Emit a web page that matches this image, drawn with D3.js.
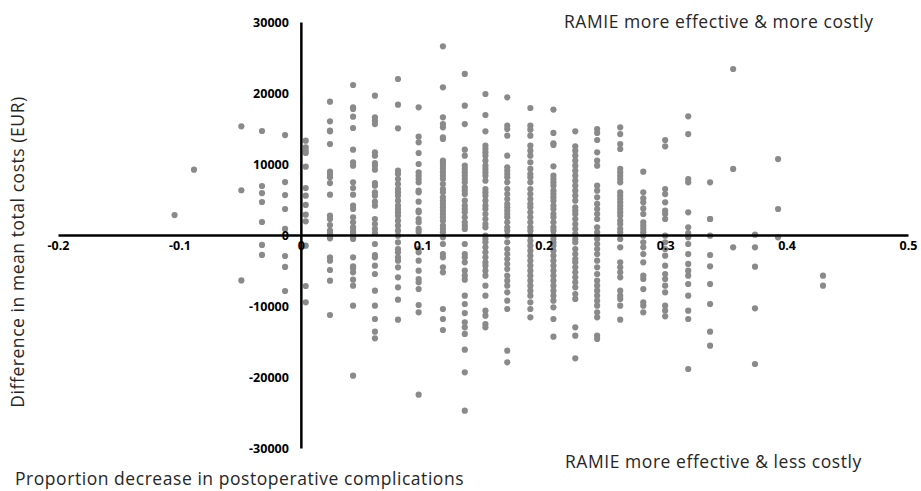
<!DOCTYPE html>
<html>
<head>
<meta charset="utf-8">
<script src="https://cdn.jsdelivr.net/npm/d3@7"></script>
<style>
  body { margin: 0; background: #fff; }
  svg text { font-family: "Open Sans", "Noto Sans", sans-serif; }
</style>
</head>
<body>
<script>
const width = 921;
const height = 491;

// incremental effect (proportion decrease) of each column of bootstrap points
const effects = [-0.104, -0.088, -0.049, -0.032, -0.013, 0.004, 0.024, 0.043, 0.061, 0.080,
  0.097, 0.117, 0.135, 0.152, 0.170, 0.189, 0.208, 0.226, 0.244, 0.263,
  0.282, 0.300, 0.319, 0.337, 0.356, 0.374, 0.393, 0.430];

// incremental costs (EUR) for each column above
const costs = [
  [2800],
  [9200],
  [15300, 6300, -6400],
  [14650, 6900, 5900, 4650, 1830, -1400, -2800],
  [14080, 7460, 5630, 3660, 850, -2960, -4500, -7890],
  [13280, 12350, 11880, 11550, 9620, 6620, 5540, 4230, 2860, 1920, -1500, -7180, -9480],
  [18780, 16010, 14700, 14600, 12820, 8920, 8500, 8120, 7320, 5680, 2720, 2250, 1410, 610, 280,
    -230, -470, -3150, -3610, -4930, -6430, -11270],
  [21130, 17980, 17750, 16670, 15070, 12020, 10230, 9770, 7420, 6620, 5680, 4130, 3660, 2490,
    1780, 1080, 610, 280, -330, -560, -3150, -4410, -4690, -5260, -6290, -7140, -9950, -19810],
  [19620, 16570, 16100, 15630, 11650, 11170, 10140, 9770, 9200, 7320, 6950, 6010, 5540, 4700,
    4130, 2250, 1550, 850, 280, -1270, -2820, -3150, -4320, -5490, -7840, -9950, -11830, -13620, -14550],
  [21970, 18350, 15020, 9060, 8590, 7890, 7180, 6480, 6010, 5540, 4830, 4130, 3660, 3190, 2720,
    2020, 1310, 610, -100, -1030, -1970, -2440, -3150, -3610, -4550, -5960, -7370, -9110, -11920],
  [17980, 13850, 13050, 11550, 10000, 8830, 8360, 7890, 7420, 6240, 6010, 4700, 3430, 3190, 2250,
    1780, 850, 470, -1970, -2440, -3610, -5020, -6200, -6670, -7610, -9860, -10890, -22490],
  [26570, 20800, 16570, 15630, 15160, 13760, 13520, 10470, 10140, 9770, 9300, 8830, 8360, 7890,
    7180, 6480, 6010, 5300, 4830, 4370, 3900, 3430, 2960, 2490, 2020, 1310, 850, 380, -330, -1270,
    -2680, -3150, -4550, -5260, -10420, -11830, -13380],
  [22680, 18220, 15630, 12020, 11170, 9770, 9300, 8830, 8360, 7890, 7420, 6710, 6240, 5770, 4830,
    4130, 3660, 3190, 2490, 1780, 1310, 850, -1270, -2680, -3150, -3850, -5020, -5730, -6290, -8540,
    -9720, -10990, -12300, -13000, -13940, -16150, -19340, -24740],
  [19860, 16900, 14600, 12580, 12110, 11650, 11170, 10470, 9770, 9300, 8830, 8360, 7650, 6480,
    6010, 5540, 4830, 4130, 3660, 2960, 2250, 1550, 1080, -100, -560, -1030, -1730, -2440, -3150,
    -3850, -4320, -5020, -5730, -7140, -8540, -10660, -11360, -12540, -13000],
  [19390, 15400, 14930, 13990, 11170, 9530, 9060, 8590, 8120, 7420, 6480, 5770, 5070, 4370, 3900,
    3430, 2960, 2490, 1780, 1080, 610, -100, -1030, -1970, -2680, -3380, -4080, -4790, -5730, -6430,
    -7140, -8080, -9250, -10420, -16290, -17930],
  [17890, 15400, 14830, 13990, 12580, 11880, 11170, 10230, 9300, 8590, 8120, 7420, 6480, 5770,
    5070, 4370, 3900, 3190, 2490, 1780, 1080, 610, -100, -800, -1500, -2210, -2910, -3610, -4320,
    -5020, -5730, -6430, -7140, -7840, -8540, -9480, -10420, -11600],
  [17660, 14370, 12910, 12680, 9670, 8360, 7890, 7420, 6950, 6240, 5770, 5300, 4830, 4130, 3660,
    2960, 2490, 1780, 1080, 610, -100, -560, -1030, -1500, -2210, -2910, -3610, -4320, -5020, -5730,
    -6430, -7140, -7840, -8540, -9250, -10190, -11830, -14320],
  [14600, 12490, 11880, 11170, 10470, 9770, 9060, 8360, 7650, 6950, 6240, 5540, 4830, 3900, 3430,
    2960, 2250, 1550, 850, 140, -560, -1030, -1970, -2680, -3380, -3850, -4550, -5260, -5960, -6670,
    -7370, -8310, -9010, -13000, -14180, -17370],
  [14930, 14370, 13380, 11650, 10470, 9770, 6950, 6240, 5300, 4370, 3660, 2960, 2250, 1080, 380,
    -560, -1270, -1970, -2680, -3610, -4550, -5490, -6430, -7140, -7840, -8540, -9250, -9950, -10890,
    -11600, -14180, -14650],
  [15160, 14220, 12820, 12110, 9300, 8830, 8360, 7890, 7420, 6010, 5540, 5070, 4600, 4130, 3660,
    3190, 2720, 2020, 1550, 850, 380, -560, -1730, -3850, -4550, -5260, -5960, -7840, -8540, -9010,
    -9950, -11920],
  [8920, 6010, 5170, 4600, 3750, 2960, 1780, 1310, 850, 380, -100, -1030, -1730, -2680, -3850,
    -5730, -6200, -7610, -9480, -9950, -10890],
  [13380, 12490, 6480, 5770, 4600, 3430, 2960, 2250, -100, -1030, -1970, -2910, -4320, -5490,
    -6200, -7140, -8080, -9950, -10660, -11460],
  [16710, 14220, 7890, 7420, 3190, 1080, 280, -330, -1270, -2680, -4080, -5020, -5730, -6900,
    -8540, -10660, -11830, -18870],
  [7420, 2250, 2250, -100, -2820, -4410, -6900, -9720, -13620, -15590],
  [23380, 9300, -1730],
  [50, -1730, -4460, -10330, -18170],
  [10700, 3660, -330],
  [-5730, -7140]
];

const xTicks = [-0.2, -0.1, 0, 0.1, 0.2, 0.3, 0.4, 0.5];
const yTicks = [-30000, -20000, -10000, 0, 10000, 20000, 30000];

const xTitle = "Proportion decrease in postoperative complications";
const yTitle = "Difference in mean total costs (EUR)";
const quadrantLabels = ["RAMIE more effective & more costly", "RAMIE more effective & less costly"];

// flatten columns into points
const points = [];
effects.forEach((e, i) => costs[i].forEach(c => points.push({ e: e, c: c })));

const x = d3.scaleLinear().domain([-0.2, 0.5]).range([58, 908]);
const y = d3.scaleLinear().domain([-30000, 30000]).range([448, 22]);

const svg = d3.select("body")
  .append("svg")
  .attr("width", width)
  .attr("height", height);

// points
svg.append("g")
  .selectAll("circle")
  .data(points)
  .enter()
  .append("circle")
  .attr("cx", d => x(d.e))
  .attr("cy", d => y(d.c))
  .attr("r", 3.1)
  .style("fill", "#8a8a8a");

// x axis through cost = 0
const xAxis = svg.append("g")
  .attr("transform", `translate(0,${y(0)})`)
  .call(d3.axisBottom(x)
    .tickValues(xTicks)
    .tickFormat(d => String(d))
    .tickSize(0)
    .tickPadding(6));

// y axis through effect = 0
const yAxis = svg.append("g")
  .attr("transform", `translate(${x(0)},0)`)
  .call(d3.axisLeft(y)
    .tickValues(yTicks)
    .tickFormat(d => String(d))
    .tickSize(0)
    .tickPadding(12));

[xAxis, yAxis].forEach(g => {
  g.select(".domain").attr("stroke", "#000").attr("stroke-width", 2.5);
  g.selectAll("text")
    .attr("fill", "#000")
    .style("font-family", "'Open Sans', sans-serif")
    .style("font-weight", "bold")
    .style("font-size", "12.5px");
});

// titles (slightly spaced to mimic the wider original face)
const titleStyle = sel => sel
  .attr("fill", "#262626")
  .style("font-size", "17.5px")
  .style("letter-spacing", "0.55px");

svg.append("text")
  .attr("x", 15)
  .attr("y", 485)
  .call(titleStyle)
  .text(xTitle);

svg.append("text")
  .attr("transform", "translate(24,252) rotate(-90)")
  .attr("text-anchor", "middle")
  .call(titleStyle)
  .text(yTitle);

svg.append("text")
  .attr("x", 564)
  .attr("y", 28)
  .call(titleStyle)
  .text(quadrantLabels[0]);

svg.append("text")
  .attr("x", 565)
  .attr("y", 468)
  .call(titleStyle)
  .text(quadrantLabels[1]);
</script>
</body>
</html>
